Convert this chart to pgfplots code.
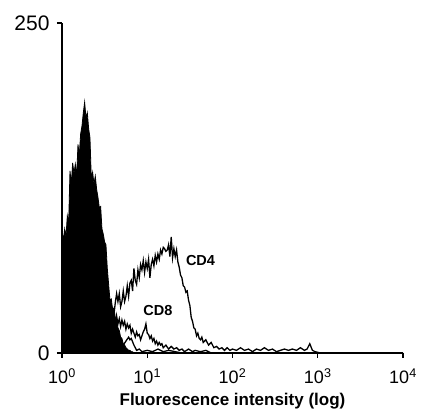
\documentclass[border=0pt]{standalone}
\usepackage{fontspec}
\setmainfont{Liberation Sans}
\usepackage{pgfplots}
\pgfplotsset{compat=1.18}
\begin{document}
\begin{tikzpicture}
\useasboundingbox (-62pt,-61pt) rectangle (364pt,353pt);
\begin{axis}[
  at={(0pt,0pt)}, anchor=south west,
  scale only axis, width=341pt, height=330pt,
  xmin=0, xmax=256, ymin=0, ymax=250,
  axis x line*=bottom, axis y line*=left,
  axis line style={line width=1.5pt,-},
  tick align=outside,
  major tick length=5pt,
  tick style={line width=1.3pt, black},
  xtick={0,64,128,192,256},
  xticklabels={10\textsuperscript{0},10\textsuperscript{1},10\textsuperscript{2},10\textsuperscript{3},10\textsuperscript{4}},
  ytick={0,250},
  yticklabels={0,250},
  xticklabel style={font=\fontsize{18}{18}\selectfont, yshift=-7pt},
  yticklabel style={font=\fontsize{21}{21}\selectfont, xshift=-4pt},
  xlabel={Fluorescence intensity (log)},
  xlabel style={font=\bfseries\fontsize{17}{17}\selectfont, at={(axis description cs:0.5,0)}, anchor=center, yshift=-48pt},
  clip=false,
]
% negative control (filled)
\addplot[fill=black, draw=black, line width=0.8pt] table {
x y
0 93
1 85
2 94
3 88
4 104
5 98
6 138
7 128
8 144
9 136
10 143
11 134
12 158
13 150
14 166
15 172
16 182
17 190
18 178
19 182
20 170
21 163
22 132
23 137
24 128
25 134
26 124
27 118
28 110
29 111
30 94
31 90
32 84
33 82
34 64
35 52
36 40
37 41
38 33
39 34
40 27
41 26
42 19
43 17
44 12
45 11
46 7
47 6
48 4
49 3
50 2
51 2
52 1
53 1
54 0
} \closedcycle;
% low control tail loop
\addplot[black, line width=1.3pt] table {
x y
44 3
46 6
48 9
50 12
51 10
52 11
54 6
55 4
56 2
58 3
60 1
64 2
68 1
72 3
76 1
80 2
85 1
90 0
};
% CD8
\addplot[black, line width=1.3pt] table {
x y
30 10
33 15
35 18
38 22
40 20
41 28
42 22
43 26
44 20
45 25
46 21
47 24
48 18
49 22
50 19
51 21
52 15
53 18
54 15
55 12
56 16
57 13
58 14
59 10
60 13
61 16
62 18
63 22
64 15
65 14
66 11
67 13
68 9
69 11
70 7
71 9
72 6
73 8
74 6
75 7
76 4
78 6
80 3
82 5
84 3
86 4
88 2
90 3
92 1
95 3
98 1
100 2
104 1
108 2
112 0
};
% CD4
\addplot[black, line width=1.3pt] table {
x y
20 5
25 12
30 20
34 28
36 30
38 34
39 29
40 38
41 45
42 39
43 45
44 35
45 39
46 47
47 39
48 43
49 51
50 43
51 53
52 55
53 47
54 64
55 55
56 52
57 63
58 57
59 67
60 63
61 70
62 61
63 69
64 64
65 71
66 57
67 67
68 71
69 66
70 74
71 69
72 75
73 71
74 78
75 75
76 80
77 79
78 77
79 78
80 82
81 73
82 88
83 72
84 79
85 73
86 78
87 69
88 65
89 59
90 57
91 51
92 50
93 46
94 47
95 40
96 36
97 27
98 24
99 19
100 18
101 13
102 15
103 11
104 10
105 12
106 8
108 10
110 6
112 8
114 4
116 5
118 3
120 4
122 2
124 4
126 2
128 3
131 2
134 4
137 2
140 3
143 1
146 3
149 2
152 4
155 2
158 3
161 1
164 2
167 3
170 2
173 3
176 2
179 4
182 2
184 3
186 7
188 2
190 1
194 0
256 0
};
\node[font=\bfseries\fontsize{14.5}{14.5}\selectfont] at (axis cs:104,70) {CD4};
\node[font=\bfseries\fontsize{14.5}{14.5}\selectfont] at (axis cs:72,32) {CD8};
\end{axis}
\end{tikzpicture}
\end{document}
